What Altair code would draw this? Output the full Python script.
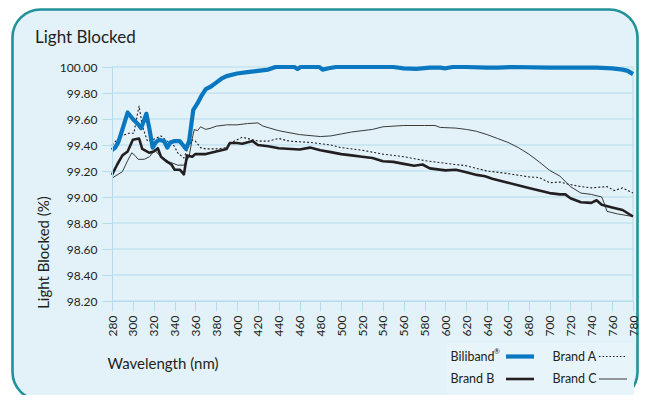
import altair as alt
import pandas as pd

# ---------------- data ----------------
BILI_NM = [280, 283, 286, 290, 295, 300, 305, 308, 313, 316, 319, 322, 325, 330, 333, 336, 340, 345,
           348, 351, 354, 356, 358, 362, 366, 370, 375, 380, 385, 390, 400, 410, 420, 430, 437, 455,
           458, 461, 479, 482, 488, 495, 550, 560, 572, 585, 595, 600, 607, 620, 640, 650, 665, 700,
           720, 745, 760, 770, 775, 780]
BILI_VAL = [99.36, 99.38, 99.42, 99.52, 99.65, 99.60, 99.56, 99.53, 99.64, 99.52, 99.38, 99.42, 99.44,
            99.43, 99.38, 99.42, 99.43, 99.43, 99.40, 99.37, 99.43, 99.55, 99.67, 99.72, 99.78, 99.83,
            99.85, 99.88, 99.91, 99.93, 99.95, 99.96, 99.97, 99.98, 100.00, 100.00, 99.985, 100.00,
            100.00, 99.98, 99.99, 100.00, 100.00, 99.99, 99.985, 99.995, 99.995, 99.99, 100.00, 100.00,
            99.995, 99.995, 100.00, 99.995, 99.995, 99.995, 99.99, 99.98, 99.97, 99.945]

A_NM = [280, 285, 289, 296, 301, 304, 306, 309, 314, 319, 327, 333, 340, 343, 349, 353, 357, 360,
        365, 370, 380, 390, 395, 405, 410, 420, 430, 440, 450, 460, 470, 480, 490, 500, 520, 540,
        560, 580, 600, 620, 630, 640, 660, 680, 690, 700, 710, 720, 730, 740, 755, 762, 770, 780]
A_VAL = [99.40, 99.44, 99.47, 99.49, 99.49, 99.62, 99.70, 99.55, 99.43, 99.44, 99.47, 99.43, 99.39,
         99.34, 99.30, 99.38, 99.44, 99.43, 99.38, 99.37, 99.37, 99.38, 99.42, 99.46, 99.45, 99.43,
         99.43, 99.45, 99.43, 99.425, 99.42, 99.41, 99.40, 99.38, 99.36, 99.33, 99.31, 99.28, 99.26,
         99.24, 99.22, 99.20, 99.18, 99.155, 99.15, 99.11, 99.115, 99.095, 99.08, 99.07, 99.08,
         99.05, 99.07, 99.03]

B_NM = [280, 285, 290, 295, 300, 306, 309, 316, 320, 324, 327, 333, 337, 340, 345, 349, 352, 357,
        360, 370, 380, 390, 393, 400, 405, 415, 420, 430, 440, 460, 470, 480, 490, 500, 510, 520,
        530, 540, 550, 560, 570, 578, 585, 600, 610, 620, 630, 638, 645, 660, 680, 690, 700, 710,
        715, 720, 730, 740, 745, 750, 760, 770, 780]
B_VAL = [99.17, 99.25, 99.32, 99.35, 99.44, 99.45, 99.37, 99.34, 99.35, 99.375, 99.31, 99.27, 99.25,
         99.21, 99.21, 99.175, 99.32, 99.31, 99.33, 99.33, 99.35, 99.37, 99.415, 99.415, 99.41,
         99.43, 99.40, 99.39, 99.375, 99.365, 99.38, 99.36, 99.345, 99.33, 99.32, 99.31, 99.30,
         99.275, 99.27, 99.255, 99.24, 99.25, 99.22, 99.205, 99.21, 99.19, 99.17, 99.16, 99.14,
         99.11, 99.07, 99.05, 99.03, 99.02, 99.02, 98.99, 98.96, 98.955, 98.975, 98.94, 98.92,
         98.90, 98.85]

C_NM = [280, 290, 295, 299, 302, 305, 311, 316, 321, 327, 335, 343, 349, 354, 357, 359, 362, 365,
        370, 375, 380, 390, 400, 410, 420, 425, 440, 460, 480, 490, 500, 510, 520, 530, 540, 560,
        580, 590, 595, 610, 620, 630, 640, 650, 660, 670, 680, 690, 700, 710, 720, 730, 740, 750,
        753, 755, 765, 780]
C_VAL = [99.145, 99.195, 99.28, 99.34, 99.32, 99.29, 99.29, 99.31, 99.36, 99.31, 99.27, 99.245,
         99.245, 99.31, 99.45, 99.52, 99.51, 99.54, 99.52, 99.53, 99.545, 99.555, 99.555, 99.565,
         99.57, 99.545, 99.51, 99.48, 99.465, 99.47, 99.485, 99.50, 99.51, 99.52, 99.54, 99.55,
         99.55, 99.55, 99.535, 99.53, 99.52, 99.505, 99.48, 99.45, 99.42, 99.38, 99.33, 99.27,
         99.205, 99.16, 99.08, 99.03, 99.02, 99.00, 98.94, 98.89, 98.87, 98.85]

SERIES = ["Biliband", "Brand A", "Brand B", "Brand C"]
X_TICKS = list(range(280, 781, 20))
Y_TICKS = [98.2, 98.4, 98.6, 98.8, 99.0, 99.2, 99.4, 99.6, 99.8, 100.0]
X_DOMAIN = [280, 780]
Y_DOMAIN = [98.2, 100.0]

# ---------------- styling / layout ----------------
FONT = "Lato"
TEXT = "#231f20"
GRID = "#b4dcec"
PANEL_FILL = "#e2f2f8"
PANEL_STROKE = "#21929a"
LEGEND_FILL = "#e7f4f9"
BLUE = "#0a78c0"

STYLE = {
    "Biliband": dict(color=BLUE, strokeWidth=4.2),
    "Brand A": dict(color=TEXT, strokeWidth=1.1, strokeDash=[2, 2]),
    "Brand B": dict(color=TEXT, strokeWidth=2.6),
    "Brand C": dict(color="#3a3a3a", strokeWidth=1.0),
}

PAD_L, PAD_T, PAD_R, PAD_B = 104, 59, 6, 94
PLOT_W, PLOT_H = 521, 234
OX, OY = PAD_L + 8, PAD_T + 8  # page position of plot origin


def px(x):
    return x - OX


def py(y):
    return y - OY


x_axis = alt.Axis(values=X_TICKS, labelAngle=-90, labelAlign="right", labelBaseline="middle",
                  labelPadding=4, tickSize=10, tickColor=GRID, domainColor=GRID, grid=False,
                  labelFontSize=12, labelColor=TEXT, labelFont=FONT,
                  title="Wavelength (nm)", titleX=-5, titleY=62, titleAlign="left",
                  titleBaseline="middle", titleFontSize=15, titleFontWeight="normal",
                  titleColor=TEXT, titleFont=FONT, zindex=1)
y_axis = alt.Axis(values=Y_TICKS, format=".2f", labelPadding=5, tickSize=10, tickColor=GRID,
                  domainColor=GRID, grid=False, labelFontSize=12, labelColor=TEXT, labelFont=FONT,
                  title="Light Blocked (%)", titleX=-69, titleY=185, titleAngle=-90,
                  titleAlign="center", titleBaseline="middle", titleFontSize=15,
                  titleFontWeight="normal", titleColor=TEXT, titleFont=FONT, zindex=1)

x_enc = alt.X("nm:Q", scale=alt.Scale(domain=X_DOMAIN, nice=False, zero=False), axis=x_axis)
y_enc = alt.Y("v:Q", scale=alt.Scale(domain=Y_DOMAIN, nice=False, zero=False), axis=y_axis)

one = alt.Data(values=[{}])

panel = alt.Chart(one).mark_rect(
    fill=PANEL_FILL, stroke=PANEL_STROKE, strokeWidth=2.6, cornerRadius=28
).encode(x=alt.value(px(12.5)), x2=alt.value(px(637.5)), y=alt.value(py(9.5)), y2=alt.value(py(400)))

title = alt.Chart(one).mark_text(
    align="left", baseline="alphabetic", fontSize=17, font=FONT, color=TEXT
).encode(x=alt.value(px(35)), y=alt.value(py(43)), text=alt.value("Light Blocked"))

grid = alt.Chart(pd.DataFrame({"v": Y_TICKS})).mark_rule(color=GRID, strokeWidth=1).encode(
    y=y_enc, x=alt.value(0), x2=alt.value(PLOT_W))
right_edge = alt.Chart(pd.DataFrame({"nm": [X_DOMAIN[1]]})).mark_rule(color=GRID, strokeWidth=1).encode(
    x=x_enc, y=alt.value(0), y2=alt.value(PLOT_H))

series_data = {
    "Biliband": (BILI_NM, BILI_VAL),
    "Brand A": (A_NM, A_VAL),
    "Brand B": (B_NM, B_VAL),
    "Brand C": (C_NM, C_VAL),
}

lines = []
for name in ["Brand C", "Brand A", "Brand B", "Biliband"]:
    nm, val = series_data[name]
    df = pd.DataFrame({"nm": nm, "v": val})
    lines.append(alt.Chart(df).mark_line(strokeJoin="round", **STYLE[name]).encode(x=x_enc, y=y_enc))

# legend (label then symbol, 2 columns)
legend_layers = [
    alt.Chart(one).mark_rect(fill=LEGEND_FILL).encode(
        x=alt.value(px(447)), x2=alt.value(px(634)), y=alt.value(py(343)), y2=alt.value(py(402)))
]
COL_TEXT_X = [450.5, 552.5]
COL_SYM_X = [(506, 534), (599, 627)]
ROW_Y = [356.5, 379]
for i, name in enumerate(SERIES):
    c, r = i % 2, i // 2
    legend_layers.append(alt.Chart(one).mark_text(
        align="left", baseline="middle", fontSize=12.5, font=FONT, color=TEXT
    ).encode(x=alt.value(px(COL_TEXT_X[c])), y=alt.value(py(ROW_Y[r])), text=alt.value(name)))
    st = dict(STYLE[name])
    if name == "Brand A":
        st["strokeDash"] = [1.5, 2]
    legend_layers.append(alt.Chart(one).mark_rule(**st).encode(
        x=alt.value(px(COL_SYM_X[c][0])), x2=alt.value(px(COL_SYM_X[c][1])),
        y=alt.value(py(ROW_Y[r]))))
legend_layers.append(alt.Chart(one).mark_text(
    align="left", baseline="middle", fontSize=7, font=FONT, color=TEXT
).encode(x=alt.value(px(494)), y=alt.value(py(352)), text=alt.value("®")))

chart = alt.layer(panel, title, grid, right_edge, *lines, *legend_layers).properties(
    width=PLOT_W, height=PLOT_H,
    padding={"left": PAD_L, "top": PAD_T, "right": PAD_R, "bottom": PAD_B},
    autosize=alt.AutoSizeParams(type="none"),
    background="white",
).configure_view(stroke=None).configure(font=FONT)

chart.save("out.html", embed_options={"renderer": "svg", "actions": False})
